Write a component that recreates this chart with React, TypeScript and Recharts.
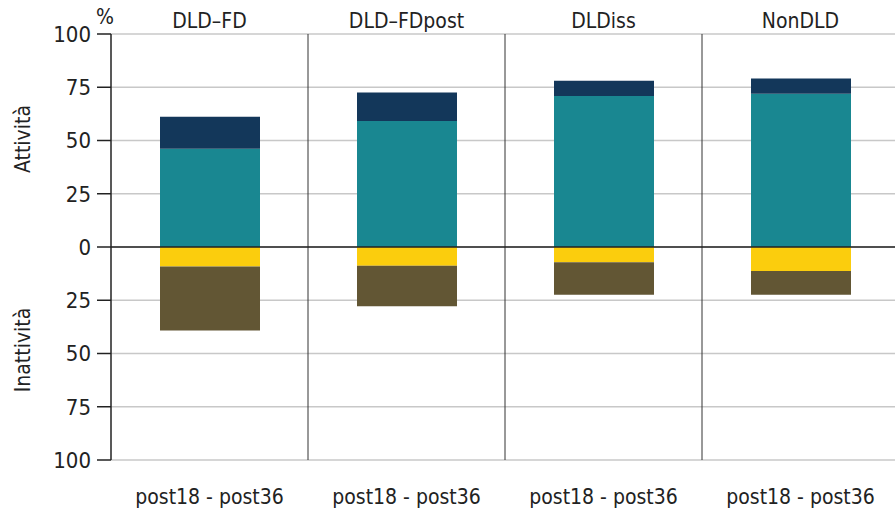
import * as React from "react";
import {BarChart, Bar, XAxis, YAxis, CartesianGrid, ReferenceLine} from "recharts";

const groups = ["DLD–FD", "DLD–FDpost", "DLDiss", "NonDLD"];
const period = "post18 - post36";
// attività (positive) and inattività (negative), stacked parts
const teal = [46.1, 59.2, 70.9, 71.9];
const navy = [15.0, 13.3, 7.1, 7.2];
const yellow = [-9.2, -8.8, -7.2, -11.3];
const brown = [-30.0, -19.0, -15.2, -11.1];
const yTicks = [-100, -75, -50, -25, 0, 25, 50, 75, 100];

const data = groups.map((g, i) => ({
    group: g,
    period: period,
    teal: teal[i],
    navy: navy[i],
    yellow: yellow[i],
    brown: brown[i],
}));

const FONT = "'Liberation Sans Narrow', 'DejaVu Sans Condensed', Roboto, sans-serif";
const W = 899;
const H = 515;

const dividers = ({offset}: any) => {
    const step = offset.width / groups.length;
    return [1, 2, 3].map(i => offset.left + step * i);
};

export default function App() {
    const sideLabel = (top: number): React.CSSProperties => ({
        position: "absolute",
        left: 23,
        top: top,
        transform: "translate(-50%, -50%) rotate(-90deg)",
        fontFamily: FONT,
        fontSize: 21,
        color: "#222",
        whiteSpace: "nowrap",
    });
    return (
        <div style={{position: "absolute", left: 0, top: 0, width: 895, height: H, overflow: "hidden", background: "#fff"}}>
            <BarChart width={W} height={H} data={data} stackOffset="sign" barSize={100}
                      margin={{top: 0, right: 0, bottom: 0, left: 0}}>
                <CartesianGrid vertical={false} stroke="#c8c8c8" strokeWidth={1.5} />
                <CartesianGrid horizontal={false} stroke="#333" verticalCoordinatesGenerator={dividers} />
                <XAxis xAxisId="top" dataKey="group" orientation="top" height={34} axisLine={false}
                       tickLine={false} tickSize={0} tickMargin={6} interval={0}
                       tick={{fontFamily: FONT, fontSize: 21, fill: "#222"}} />
                <XAxis dataKey="period" height={55} axisLine={false} tickLine={false} tickSize={0}
                       tickMargin={29} interval={0}
                       tick={{fontFamily: FONT, fontSize: 21, fill: "#222"}} />
                <YAxis width={111} domain={[-100, 100]} ticks={yTicks} allowDataOverflow
                       tickFormatter={(v: number) => String(Math.abs(v))}
                       axisLine={{stroke: "#222", strokeWidth: 1.5}} tickLine={{stroke: "#222", strokeWidth: 1.5}}
                       tickSize={14} tickMargin={6}
                       tick={{fontFamily: FONT, fontSize: 22, fill: "#222"}} />
                <Bar dataKey="teal" stackId="a" fill="#198791" isAnimationActive={false} />
                <Bar dataKey="navy" stackId="a" fill="#13375a" isAnimationActive={false} />
                <Bar dataKey="yellow" stackId="a" fill="#fbcd0d" isAnimationActive={false} />
                <Bar dataKey="brown" stackId="a" fill="#625634" isAnimationActive={false} />
                <ReferenceLine y={0} stroke="#222" strokeWidth={1.5} />
            </BarChart>
            <span style={{position: "absolute", left: 96, top: 5, fontFamily: FONT, fontSize: 21, color: "#222"}}>%</span>
            <span style={sideLabel(139)}>Attività</span>
            <span style={sideLabel(350)}>Inattività</span>
        </div>
    );
}
